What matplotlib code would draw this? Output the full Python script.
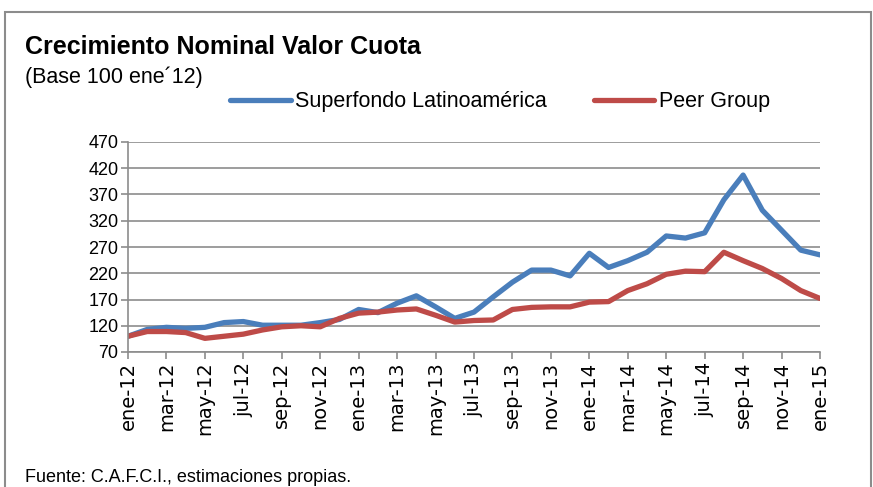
import matplotlib
matplotlib.use("Agg")
import matplotlib.pyplot as plt
from matplotlib.patches import Rectangle
import pandas as pd

# datos mensuales ene-12 .. ene-15 (base 100)
meses = pd.date_range("2012-01-01", "2015-01-01", freq="MS")
superfondo = [100, 113, 117, 115, 117, 126, 128, 121, 121, 121, 126, 132,
              151, 145, 163, 177, 156, 134, 146, 175, 203, 226, 226, 215,
              258, 231, 244, 260, 291, 287, 297, 360, 407, 340, 302, 264, 255]
peer_group = [100, 109, 109, 107, 96, 100, 104, 112, 118, 120, 118, 134,
              144, 146, 150, 152, 140, 127, 130, 131, 151, 155, 156, 156,
              165, 166, 187, 200, 218, 224, 223, 260, 244, 229, 210, 187, 172]
nombres_mes = ["ene", "feb", "mar", "abr", "may", "jun",
               "jul", "ago", "sep", "oct", "nov", "dic"]
etiquetas = [f"{nombres_mes[d.month - 1]}-{d.strftime('%y')}" for d in meses]
y_ticks = list(range(70, 471, 50))

plt.rcParams['font.family'] = ['Liberation Sans', 'DejaVu Sans']

fig = plt.figure(figsize=(8.73, 4.87), dpi=100)
ax = fig.add_axes([128 / 873, 1 - 352 / 487, 692 / 873, 210 / 487])

x = list(range(len(meses)))
ax.plot(x, superfondo, color="#4A7EBB", lw=3.8, solid_capstyle="round",
        label="Superfondo Latinoamérica")
ax.plot(x, peer_group, color="#BE4B48", lw=3.8, solid_capstyle="round",
        label="Peer Group")

ax.set_xlim(0, len(meses) - 1)
ax.set_ylim(70, 470)
ax.set_yticks(y_ticks)
ax.set_yticklabels([str(v) for v in y_ticks], fontsize=13)
ax.set_xticks(x[::2])
ax.set_xticklabels(etiquetas[::2], rotation=90, fontsize=14,
                   family="DejaVu Sans")
ax.grid(axis="y", color="#8c8c8c", lw=1.2)
ax.set_axisbelow(True)
for s in ["top", "right"]:
    ax.spines[s].set_visible(False)
for s in ["left", "bottom"]:
    ax.spines[s].set_color("#8c8c8c")
    ax.spines[s].set_linewidth(1.2)
ax.tick_params(axis="both", color="#8c8c8c", length=5, width=1.2, pad=2)

# marco del gráfico
fig.patches.append(Rectangle((5 / 873, -0.02), 866 / 873, 1 - 12 / 487 + 0.02,
                             transform=fig.transFigure, fill=False,
                             edgecolor="#8c8c8c", lw=1.5))

fig.text(25 / 873, 1 - 47 / 487, "Crecimiento Nominal Valor Cuota",
         fontsize=18, fontweight="bold", va="center")
fig.text(25 / 873, 1 - 77 / 487, "(Base 100 ene´12)", fontsize=15.5,
         va="center")
fig.legend(loc="center", bbox_to_anchor=(500 / 873, 1 - 102 / 487), ncol=2,
           frameon=False, fontsize=15.5, handlelength=2.8, handletextpad=0.2,
           columnspacing=2.2)
fig.text(25 / 873, 1 - 478 / 487, "Fuente: C.A.F.C.I., estimaciones propias.",
         fontsize=13, va="center")

fig.savefig("out.png", dpi=100)
